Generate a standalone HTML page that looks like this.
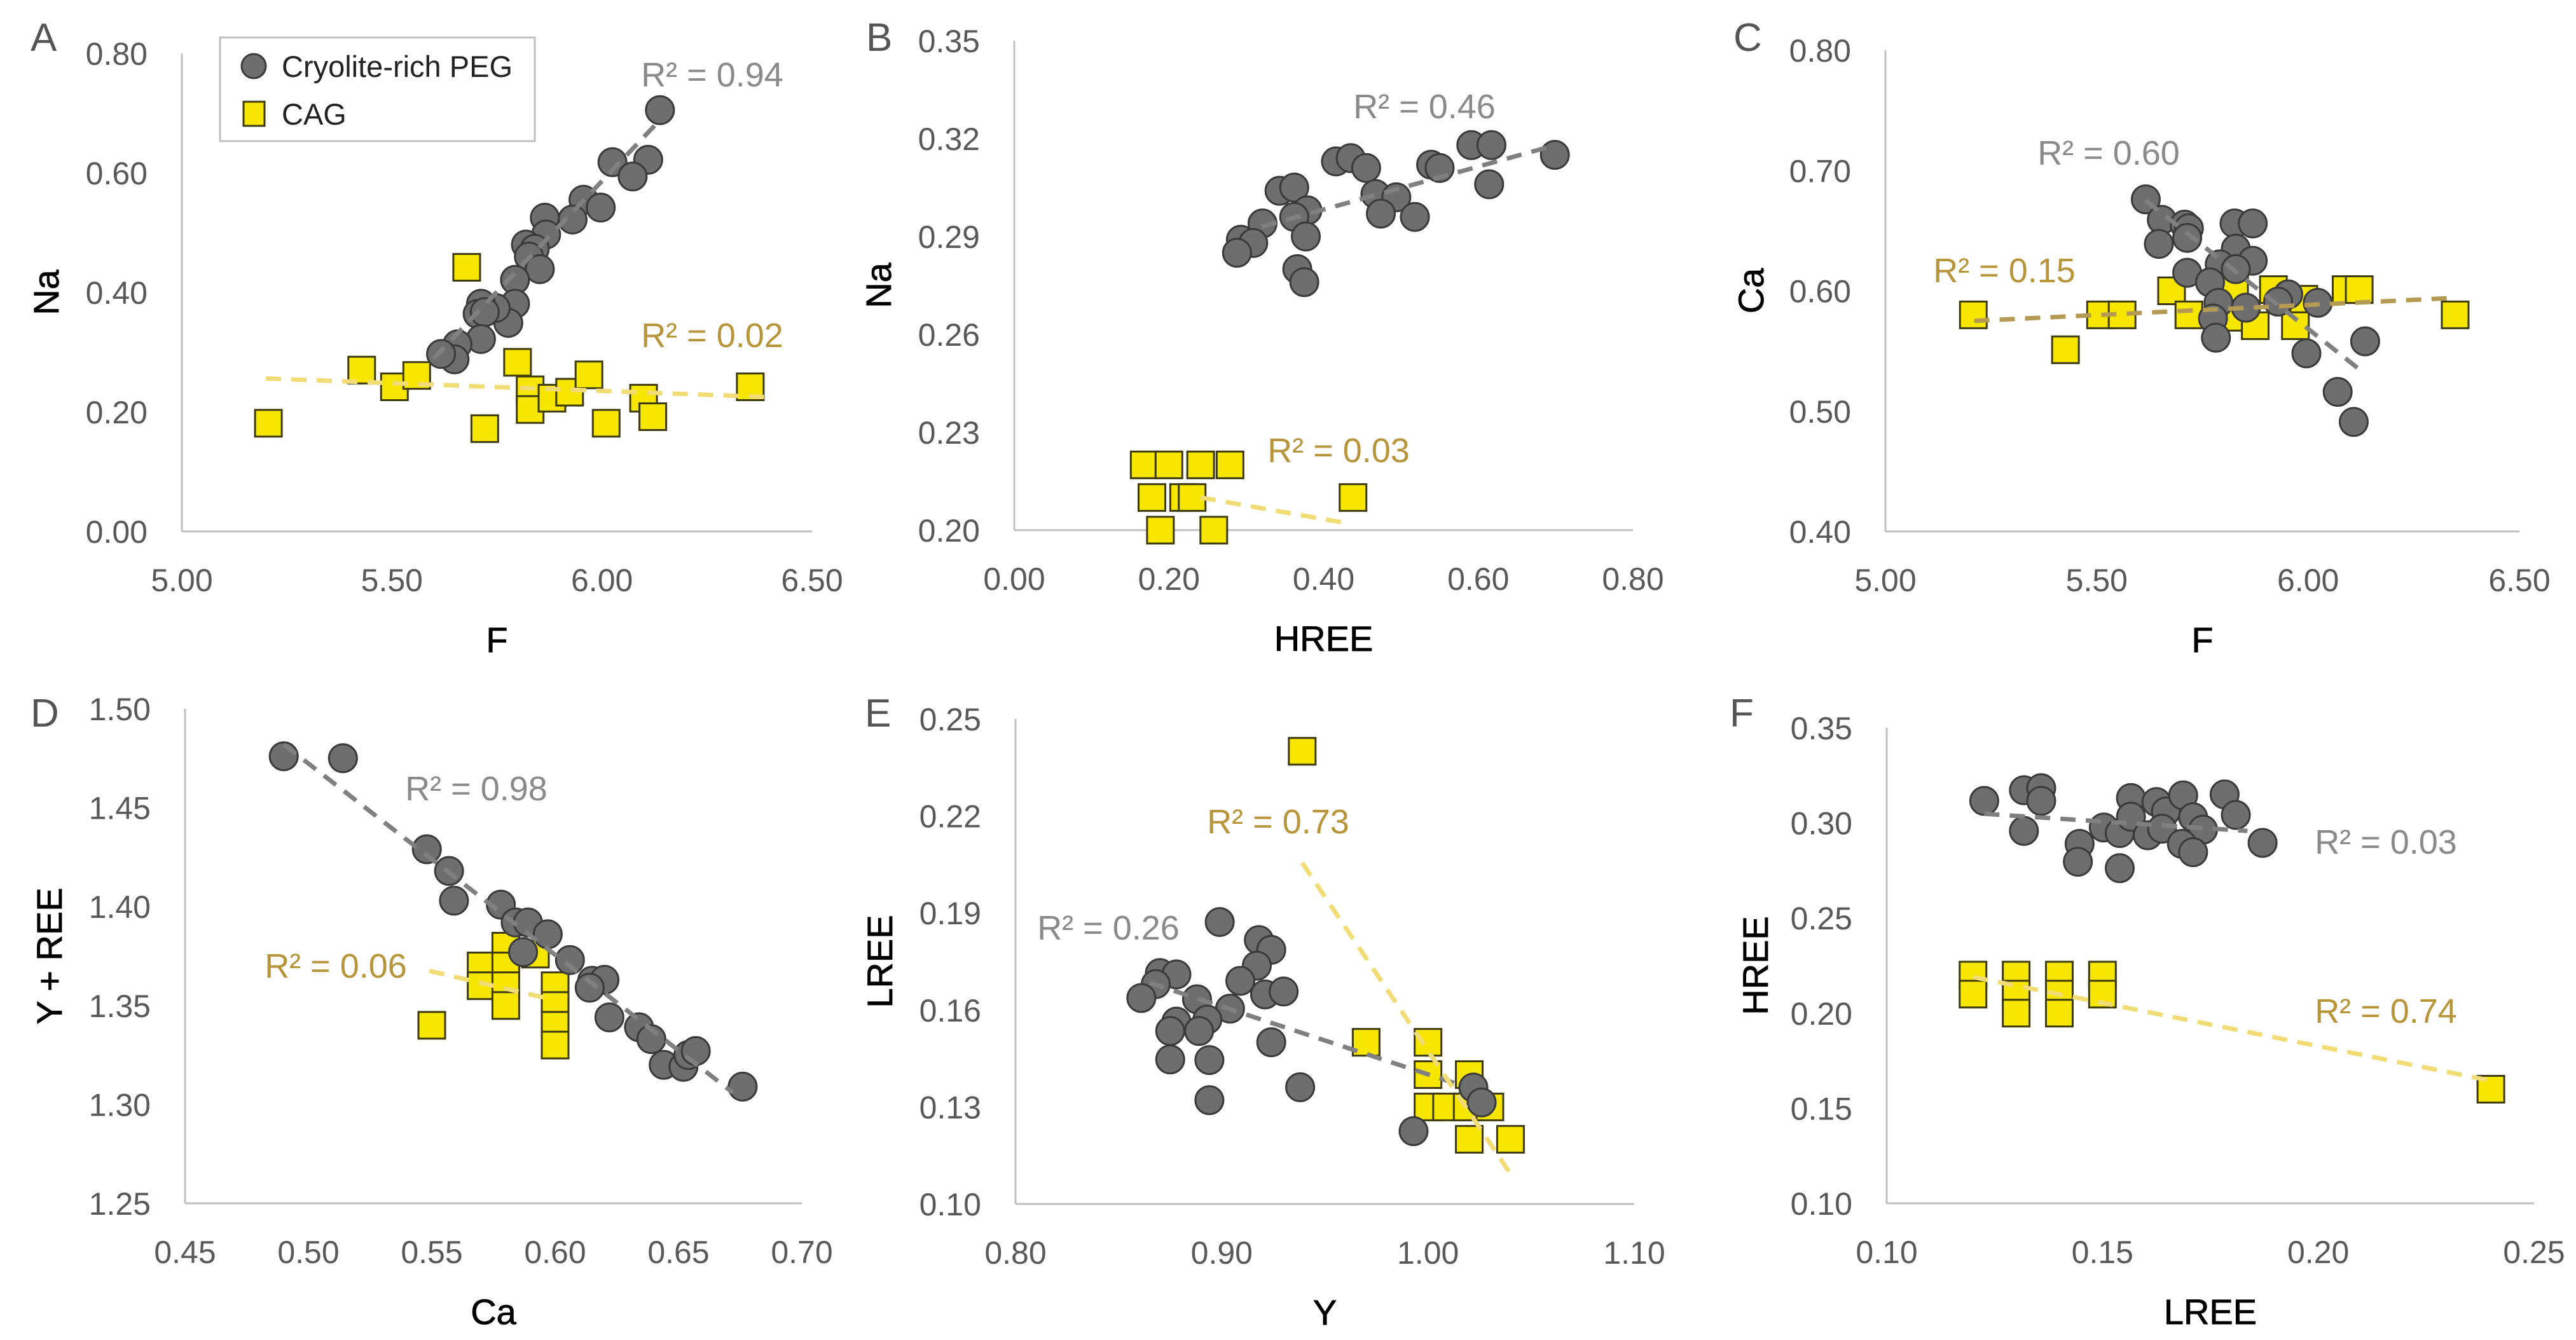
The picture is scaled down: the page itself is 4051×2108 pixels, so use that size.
<!DOCTYPE html>
<html><head><meta charset="utf-8">
<style>
html,body{margin:0;padding:0;background:#fff;}
body{width:4051px;height:2103px;overflow:hidden;font-family:"Liberation Sans",Arial,sans-serif;}
svg text{font-family:"Liberation Sans",Arial,sans-serif;}
</style></head>
<body>
<svg id="fig" width="4051" height="2103" viewBox="0 0 4051 2103" xmlns="http://www.w3.org/2000/svg"></svg>
<script>
// ---------- Panel A: F vs Na ----------
const aPegX=[6.138,6.025,6.110,6.073,5.956,5.997,5.930,5.864,5.867,5.819,5.840,5.826,5.852,5.793,5.793,5.777,5.747,5.712,5.704,5.721,5.712,5.656,5.649,5.617];
const aPegY=[0.705,0.618,0.622,0.594,0.555,0.542,0.522,0.525,0.497,0.480,0.473,0.460,0.439,0.421,0.381,0.349,0.374,0.381,0.364,0.367,0.322,0.313,0.288,0.297];
const aCagX=[5.678,5.206,5.428,5.506,5.559,5.721,5.799,5.829,5.829,5.881,5.923,5.969,6.010,6.099,6.121,6.353];
const aCagY=[0.442,0.181,0.270,0.242,0.261,0.172,0.283,0.237,0.204,0.223,0.233,0.262,0.181,0.223,0.192,0.242];
const aPegTrend=[[5.60,0.29],[6.14,0.69]];
const aCagTrend=[[5.20,0.256],[6.39,0.225]];
const aXTicks=["5.00","5.50","6.00","6.50"];
const aYTicks=["0.00","0.20","0.40","0.60","0.80"];
// ---------- Panel B: HREE vs Na ----------
const bPegX=[0.591,0.617,0.699,0.416,0.435,0.455,0.539,0.550,0.614,0.343,0.362,0.467,0.494,0.474,0.518,0.379,0.362,0.321,0.293,0.309,0.288,0.377,0.366,0.375];
const bPegY=[0.318,0.318,0.315,0.313,0.314,0.311,0.312,0.311,0.306,0.304,0.305,0.303,0.302,0.297,0.296,0.298,0.296,0.294,0.289,0.288,0.285,0.290,0.280,0.276];
const bCagX=[0.168,0.200,0.241,0.279,0.178,0.219,0.230,0.438,0.189,0.258];
const bCagY=[0.22,0.22,0.22,0.22,0.21,0.21,0.21,0.21,0.20,0.20];
const bPegTrend=[[0.32,0.293],[0.70,0.318]];
const bCagTrend=[[0.241,0.210],[0.426,0.2023]];
const bXTicks=["0.00","0.20","0.40","0.60","0.80"];
const bYTicks=["0.20","0.23","0.26","0.29","0.32","0.35"];
// ---------- Panel C: F vs Ca ----------
const cPegX=[5.616,5.654,5.647,5.708,5.718,5.714,5.826,5.869,5.829,5.869,5.791,5.829,5.714,5.768,5.788,5.853,5.953,5.929,6.023,5.775,5.782,5.996,6.135,6.070,6.108];
const cPegY=[0.676,0.659,0.639,0.655,0.652,0.644,0.656,0.656,0.635,0.625,0.622,0.618,0.615,0.607,0.590,0.586,0.597,0.591,0.590,0.577,0.561,0.548,0.558,0.516,0.491];
const cCagX=[5.208,5.426,5.509,5.560,5.677,5.718,5.826,5.820,5.875,5.918,5.990,5.970,6.090,6.121,6.348];
const cCagY=[0.580,0.551,0.580,0.580,0.600,0.580,0.601,0.578,0.571,0.601,0.593,0.571,0.601,0.601,0.580];
const cPegTrend=[[5.616,0.675],[6.124,0.534]];
const cCagTrend=[[5.21,0.575],[6.34,0.594]];
const cXTicks=["5.00","5.50","6.00","6.50"];
const cYTicks=["0.40","0.50","0.60","0.70","0.80"];
// ---------- Panel D: Ca vs Y+REE ----------
const dPegX=[0.490,0.514,0.548,0.557,0.559,0.578,0.584,0.589,0.597,0.587,0.606,0.615,0.620,0.614,0.622,0.634,0.639,0.644,0.652,0.654,0.657,0.676];
const dPegY=[1.476,1.475,1.429,1.418,1.403,1.401,1.392,1.392,1.386,1.377,1.373,1.3625,1.363,1.359,1.344,1.339,1.333,1.320,1.319,1.325,1.327,1.309];
const dCagX=[0.57,0.57,0.58,0.58,0.58,0.58,0.592,0.60,0.60,0.60,0.60,0.55];
const dCagY=[1.37,1.36,1.38,1.37,1.36,1.35,1.376,1.36,1.35,1.34,1.33,1.34];
const dPegTrend=[[0.490,1.482],[0.672,1.306]];
const dCagTrend=[[0.549,1.3675],[0.599,1.353]];
const dXTicks=["0.45","0.50","0.55","0.60","0.65","0.70"];
const dYTicks=["1.25","1.30","1.35","1.40","1.45","1.50"];
// ---------- Panel E: Y vs LREE ----------
const ePegX=[0.899,0.918,0.924,0.917,0.909,0.870,0.878,0.868,0.861,0.888,0.921,0.930,0.904,0.878,0.875,0.893,0.889,0.875,0.894,0.924,0.894,0.938,0.993,1.022,1.026];
const ePegY=[0.1872,0.1816,0.1786,0.1737,0.169,0.1714,0.171,0.168,0.1637,0.1633,0.1648,0.1657,0.1604,0.1564,0.1535,0.157,0.1535,0.1447,0.1445,0.150,0.1321,0.1361,0.1225,0.136,0.1314];
const eCagX=[0.939,0.970,1.000,1.000,1.020,1.000,1.009,1.019,1.030,1.020,1.040];
const eCagY=[0.240,0.150,0.150,0.140,0.140,0.130,0.130,0.130,0.130,0.120,0.120];
const ePegTrend=[[0.865,0.1684],[1.0137,0.1372]];
const eCagTrend=[[0.939,0.2055],[1.040,0.1093]];
const eXTicks=["0.80","0.90","1.00","1.10"];
const eYTicks=["0.10","0.13","0.16","0.19","0.22","0.25"];
// ---------- Panel F: LREE vs HREE ----------
const fPegX=[0.1226,0.1318,0.1358,0.1358,0.1318,0.1447,0.1443,0.1503,0.154,0.154,0.1566,0.1566,0.1605,0.1625,0.1647,0.1638,0.1687,0.171,0.1733,0.1684,0.171,0.1783,0.1809,0.1871];
const fPegY=[0.3116,0.3172,0.3183,0.3116,0.2958,0.289,0.2796,0.2976,0.2947,0.2762,0.3131,0.3033,0.2935,0.311,0.306,0.297,0.3145,0.303,0.2965,0.289,0.2846,0.315,0.3042,0.2895];
const fCagX=[0.12,0.12,0.13,0.13,0.13,0.14,0.14,0.14,0.15,0.15,0.24];
const fCagY=[0.22,0.21,0.22,0.21,0.20,0.22,0.21,0.20,0.22,0.21,0.16];
const fPegTrend=[[0.1226,0.3048],[0.1836,0.2958]];
const fCagTrend=[[0.12,0.219],[0.24,0.1645]];
const fXTicks=["0.10","0.15","0.20","0.25"];
const fYTicks=["0.10","0.15","0.20","0.25","0.30","0.35"];
const r2Labels=["R² = 0.94","R² = 0.02","R² = 0.46","R² = 0.03","R² = 0.60","R² = 0.15","R² = 0.98","R² = 0.06","R² = 0.26","R² = 0.73","R² = 0.03","R² = 0.74"];

const NS="http://www.w3.org/2000/svg";
const svg=document.getElementById('fig');
function mk(tag,attrs,parent){const e=document.createElementNS(NS,tag);for(const k in attrs)e.setAttribute(k,attrs[k]);(parent||svg).appendChild(e);return e;}

const panels=[
 {id:'a',letter:'A',x0:286,x1:1277,yb:836,yt:84,xt:aXTicks,yt_:aYTicks,xl:'F',yl:'Na',ylx:77,
  peg:[aPegX,aPegY],cag:[aCagX,aCagY],pt:aPegTrend,ct:aCagTrend,cTrendCol:'#f2dc75',
  r1:[1120,117,0],r2:[1120,527,1],letterPos:[48,80]},
 {id:'b',letter:'B',x0:1595,x1:2568,yb:834,yt:64,xt:bXTicks,yt_:bYTicks,xl:'HREE',yl:'Na',ylx:1386,
  peg:[bPegX,bPegY],cag:[bCagX,bCagY],pt:bPegTrend,ct:bCagTrend,cTrendCol:'#f2dc75',
  r1:[2240,167,2],r2:[2105,708,3],letterPos:[1362,80]},
 {id:'c',letter:'C',x0:2965,x1:3962,yb:836,yt:79,xt:cXTicks,yt_:cYTicks,xl:'F',yl:'Ca',ylx:2758,
  peg:[cPegX,cPegY],cag:[cCagX,cCagY],pt:cPegTrend,ct:cCagTrend,cTrendCol:'#b49a52',
  r1:[3316,240,4],r2:[3152,425,5],letterPos:[2726,80]},
 {id:'d',letter:'D',x0:291,x1:1261,yb:1893,yt:1115,xt:dXTicks,yt_:dYTicks,xl:'Ca',yl:'Y + REE',ylx:82,
  peg:[dPegX,dPegY],cag:[dCagX,dCagY],pt:dPegTrend,ct:dCagTrend,cTrendCol:'#f2dc75',
  r1:[749,1240,6],r2:[528,1519,7],letterPos:[48,1143]},
 {id:'e',letter:'E',x0:1597,x1:2570,yb:1894,yt:1131,xt:eXTicks,yt_:eYTicks,xl:'Y',yl:'LREE',ylx:1388,
  peg:[ePegX,ePegY],cag:[eCagX,eCagY],pt:ePegTrend,ct:eCagTrend,cTrendCol:'#f2dc75',
  r1:[1743,1459,8],r2:[2010,1292,9],letterPos:[1360,1143]},
 {id:'f',letter:'F',x0:2967,x1:3985,yb:1893,yt:1145,xt:fXTicks,yt_:fYTicks,xl:'LREE',yl:'HREE',ylx:2765,
  peg:[fPegX,fPegY],cag:[fCagX,fCagY],pt:fPegTrend,ct:fCagTrend,cTrendCol:'#f2dc75',
  r1:[3752,1324,10],r2:[3752,1590,11],letterPos:[2720,1143]}
];

panels.forEach(p=>{
  const g=mk('g',{});
  
  
  const xmin=parseFloat(p.xt[0]),xmax=parseFloat(p.xt[p.xt.length-1]);
  const ymin=parseFloat(p.yt_[0]),ymax=parseFloat(p.yt_[p.yt_.length-1]);
  const sx=v=>p.x0+(v-xmin)/(xmax-xmin)*(p.x1-p.x0);
  const sy=v=>p.yb-(v-ymin)/(ymax-ymin)*(p.yb-p.yt);
  const ya=mk('line',{x1:p.x0,y1:p.yt,x2:p.x0,y2:p.yb,stroke:'#c0c0c0','stroke-width':3},g);
  
  
  const xa=mk('line',{x1:p.x0,y1:p.yb,x2:p.x1,y2:p.yb,stroke:'#c0c0c0','stroke-width':3},g);
  
  
  p.xt.forEach(t=>{
    const e=mk('text',{x:sx(parseFloat(t)),y:p.yb+94,'text-anchor':'middle','font-size':50,fill:'#595959'},g);
    e.textContent=t;
    
    
  });
  p.yt_.forEach(t=>{
    const e=mk('text',{x:p.x0-54,y:sy(parseFloat(t))+18,'text-anchor':'end','font-size':50,fill:'#595959'},g);
    e.textContent=t;
    
    
  });
  const xt=mk('text',{x:(p.x0+p.x1)/2,y:p.yb+190,'text-anchor':'middle','font-size':56,fill:'#000','font-weight':'500',stroke:'#000','stroke-width':0.8},g);
  xt.textContent=p.xl;
  
  
  const cy=(p.yt+p.yb)/2;
  const yt=mk('text',{x:p.ylx,y:cy,'text-anchor':'middle','font-size':56,fill:'#000',stroke:'#000','stroke-width':0.8,transform:`rotate(-90 ${p.ylx} ${cy})`,'dominant-baseline':'middle'},g);
  yt.textContent=p.yl;
  
  
  const lt=mk('text',{x:p.letterPos[0],y:p.letterPos[1],'font-size':62,fill:'#555'},g);
  lt.textContent=p.letter;
  
  
  const sq=42;
  p.cag[0].forEach((v,i)=>{
    const r=mk('rect',{x:sx(v)-sq/2,y:sy(p.cag[1][i])-sq/2,width:sq,height:sq,fill:'#f7e600',stroke:'#3d3a10','stroke-width':3},g);
    
    
  });
  p.peg[0].forEach((v,i)=>{
    const c=mk('circle',{cx:sx(v),cy:sy(p.peg[1][i]),r:22,fill:'#6e6e6e',stroke:'#3a3a3a','stroke-width':3},g);
    
    
  });
  const t1=mk('line',{x1:sx(p.pt[0][0]),y1:sy(p.pt[0][1]),x2:sx(p.pt[1][0]),y2:sy(p.pt[1][1]),stroke:'#808080','stroke-width':7,'stroke-dasharray':'24 16'},g);
  
  
  const t2=mk('line',{x1:sx(p.ct[0][0]),y1:sy(p.ct[0][1]),x2:sx(p.ct[1][0]),y2:sy(p.ct[1][1]),stroke:p.cTrendCol,'stroke-width':7,'stroke-dasharray':'24 16'},g);
  
  
  const l1=mk('text',{x:p.r1[0],y:p.r1[1]+19,'text-anchor':'middle','font-size':54,fill:'#8a8a8a'},g);
  l1.textContent=r2Labels[p.r1[2]];
  
  
  const l2=mk('text',{x:p.r2[0],y:p.r2[1]+19,'text-anchor':'middle','font-size':54,fill:'#b8953a'},g);
  l2.textContent=r2Labels[p.r2[2]];
  
  
});

const lg=mk('g',{});


const box=mk('rect',{x:346,y:59,width:495,height:163,fill:'#fff',stroke:'#bfbfbf','stroke-width':3},lg);


const lc=mk('circle',{cx:399,cy:104,r:19,fill:'#6e6e6e',stroke:'#3a3a3a','stroke-width':3},lg);


const lt1=mk('text',{x:443,y:121,'font-size':47,fill:'#222'},lg);
lt1.textContent='Cryolite-rich PEG';


const ls=mk('rect',{x:383,y:160,width:33,height:38,fill:'#f7e600',stroke:'#3d3a10','stroke-width':3},lg);


const lt2=mk('text',{x:443,y:196,'font-size':47,fill:'#222'},lg);
lt2.textContent='CAG';


</script>
</body></html>
